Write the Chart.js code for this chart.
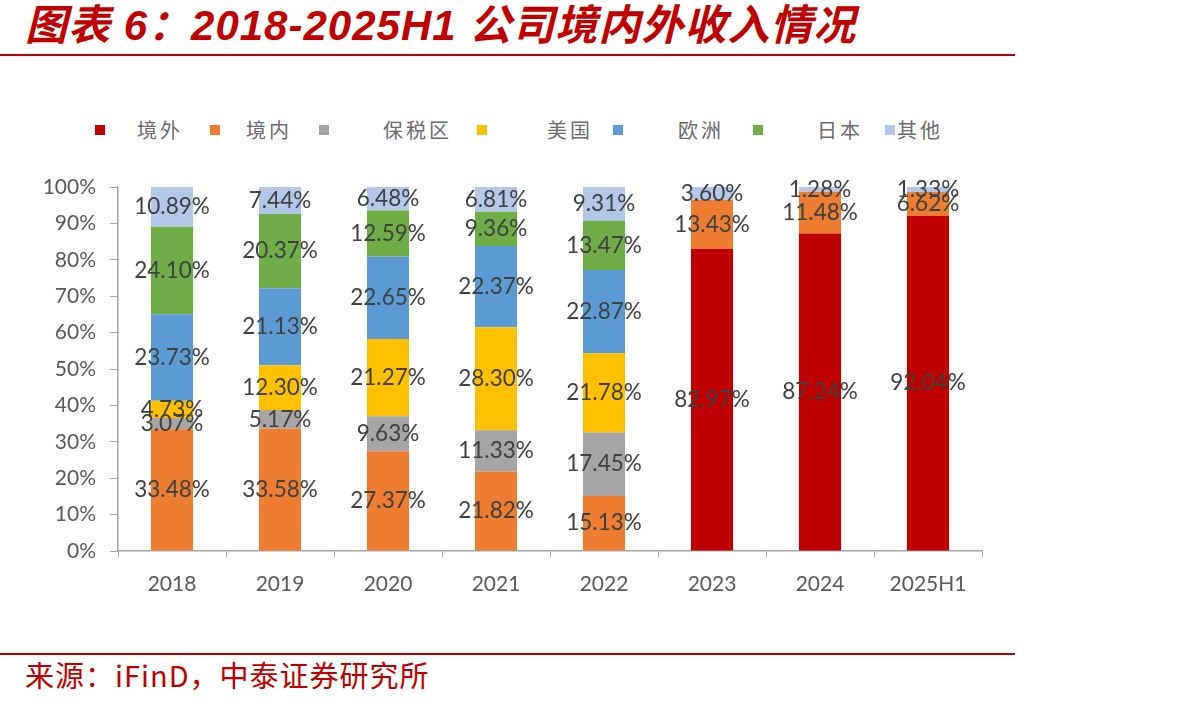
<!DOCTYPE html>
<html lang="zh-CN">
<head>
  <meta charset="utf-8" />
  <title>图表 6：2018-2025H1 公司境内外收入情况</title>
  <script src="https://cdn.jsdelivr.net/npm/chart.js@4.4.1/dist/chart.umd.min.js"></script>
  <style>
    * { box-sizing: border-box; }
    body { margin: 0; width: 1192px; height: 707px; background: #fff; position: relative; overflow: hidden; }
    .title {
      position: absolute; left: 25px; top: 5px; margin: 0;
      font: italic bold 42px/1 "Liberation Sans", "Noto Sans CJK SC", sans-serif;
      letter-spacing: 1px; color: #c00000; white-space: nowrap;
    }
    .rule { position: absolute; left: 0; width: 1015px; height: 2px; background: #c00000; }
    .legend { position: absolute; left: 0; top: 118px; width: 1000px; height: 24px; }
    .legend .box { position: absolute; top: 7px; width: 10px; height: 10px; }
    .legend .txt {
      position: absolute; top: 0; font: 20px/24px "Noto Sans CJK SC", sans-serif;
      letter-spacing: 3px; color: #6a6a6a; white-space: nowrap;
    }
    .chart { position: absolute; left: 0; top: 100px; width: 1000px; height: 520px; }
    .source {
      position: absolute; left: 25px; top: 659px;
      font: 29px/1.1 "Noto Sans CJK SC", sans-serif; letter-spacing: 1px;
      color: #c00000; white-space: nowrap;
    }
  </style>
</head>
<body>
  <h1 class="title">图表 6：2018-2025H1 公司境内外收入情况</h1>
  <div class="rule" style="top:54px"></div>
  <div class="legend" id="legend"></div>
  <div class="chart"><canvas id="c"></canvas></div>
  <div class="rule" style="top:653px"></div>
  <div class="source">来源：iFinD，中泰证券研究所</div>

  <script>
    const YEARS = ['2018', '2019', '2020', '2021', '2022', '2023', '2024', '2025H1'];
    const SERIES = ['境外', '境内', '保税区', '美国', '欧洲', '日本', '其他'];
    const COLORS = ['#c00000', '#ed7d31', '#a5a5a5', '#ffc000', '#5b9bd5', '#70ad47', '#b4c7e7'];

    // shares in %, null where the segment does not exist for that year
    const OVERSEAS = [null, null, null, null, null, 82.97, 87.24, 92.04];
    const DOMESTIC = [33.48, 33.58, 27.37, 21.82, 15.13, 13.43, 11.48, 6.62];
    const BONDED   = [3.07, 5.17, 9.63, 11.33, 17.45, null, null, null];
    const USA      = [4.73, 12.30, 21.27, 28.30, 21.78, null, null, null];
    const EUROPE   = [23.73, 21.13, 22.65, 22.37, 22.87, null, null, null];
    const JAPAN    = [24.10, 20.37, 12.59, 9.36, 13.47, null, null, null];
    const OTHER    = [10.89, 7.44, 6.48, 6.81, 9.31, 3.60, 1.28, 1.33];

    const Y_TICKS = [0, 10, 20, 30, 40, 50, 60, 70, 80, 90, 100];

    // legend layout (Excel spacing is irregular)
    const LEGEND_BOX_X = [95, 210, 319, 477, 613, 753, 885];
    const LEGEND_TXT_X = [137, 246, 383, 547, 678, 817, 897];

    const legendEl = document.getElementById('legend');
    SERIES.forEach((name, i) => {
      const box = document.createElement('div');
      box.className = 'box';
      box.style.left = LEGEND_BOX_X[i] + 'px';
      box.style.background = COLORS[i];
      const txt = document.createElement('div');
      txt.className = 'txt';
      txt.style.left = LEGEND_TXT_X[i] + 'px';
      txt.textContent = name;
      legendEl.appendChild(box);
      legendEl.appendChild(txt);
    });

    const valueLabels = {
      id: 'valueLabels',
      afterDatasetsDraw(chart) {
        const ctx = chart.ctx;
        ctx.save();
        ctx.font = '22.5px Lato, "Noto Sans", sans-serif';
        ctx.fillStyle = '#404040';
        ctx.textAlign = 'center';
        ctx.textBaseline = 'middle';
        chart.data.datasets.forEach((ds, i) => {
          chart.getDatasetMeta(i).data.forEach((bar, j) => {
            const v = ds.data[j];
            if (v === null || v === undefined) return;
            ctx.fillText(v.toFixed(2) + '%', bar.x, (bar.y + bar.base) / 2);
          });
        });
        ctx.restore();
      }
    };

    const seriesData = [OVERSEAS, DOMESTIC, BONDED, USA, EUROPE, JAPAN, OTHER];
    const axisColor = '#a6a6a6';
    const tickFont = { family: 'Lato, "Noto Sans", sans-serif', size: 21 };

    new Chart(document.getElementById('c'), {
      type: 'bar',
      data: {
        labels: YEARS,
        datasets: SERIES.map((name, i) => ({
          label: name,
          data: seriesData[i],
          backgroundColor: COLORS[i],
          borderWidth: 0,
          categoryPercentage: 1,
          barPercentage: 0.39
        }))
      },
      options: {
        responsive: true,
        maintainAspectRatio: false,
        animation: false,
        layout: { padding: { top: 87, right: 18, left: 0, bottom: 0 } },
        plugins: { legend: { display: false }, tooltip: { enabled: false } },
        scales: {
          x: {
            stacked: true,
            grid: { offset: true, drawOnChartArea: false, color: axisColor, tickLength: 6 },
            border: { color: axisColor, width: 1.5 },
            ticks: { color: '#595959', font: tickFont, padding: 15 },
            afterFit(scale) { scale.height = 69; }
          },
          y: {
            stacked: true,
            min: 0,
            max: 100,
            grid: { drawOnChartArea: false, color: axisColor, tickLength: 8 },
            border: { color: axisColor, width: 1.5 },
            afterBuildTicks(scale) { scale.ticks = Y_TICKS.map(v => ({ value: v })); },
            ticks: { color: '#595959', font: tickFont, padding: 14, callback: v => v + '%' },
            afterFit(scale) { scale.width = 118; }
          }
        }
      },
      plugins: [valueLabels]
    });
  </script>
</body>
</html>
